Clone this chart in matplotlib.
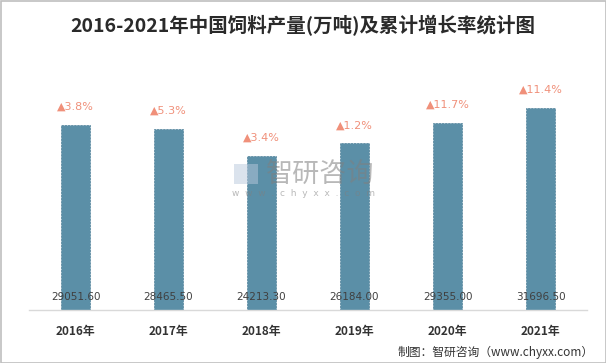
import matplotlib
matplotlib.use("Agg")
import matplotlib.pyplot as plt
from matplotlib.patches import Rectangle

years = ["2016年", "2017年", "2018年", "2019年", "2020年", "2021年"]
output = [29051.60, 28465.50, 24213.30, 26184.00, 29355.00, 31696.50]
growth = [3.8, 5.3, 3.4, 1.2, 11.7, 11.4]

plt.rcParams['font.family'] = ['Noto Sans CJK SC', 'DejaVu Sans']

W, H = 606, 363
fig = plt.figure(figsize=(W / 100, H / 100), dpi=100)
ax = fig.add_axes([29 / W, (H - 310) / H, (587 - 29) / W, 250 / H])

x = list(range(len(years)))
ax.bar(x, output, width=0.31, color='#5B8FA7', edgecolor='#4F8199',
       linewidth=0.5, linestyle=(0, (3, 1.5)), zorder=2)
ax.set_xlim(-0.5, len(years) - 0.5)
ax.set_ylim(0, 39250)
for s in ['top', 'right', 'left']:
    ax.spines[s].set_visible(False)
ax.spines['bottom'].set_color('#D9D9D9')
ax.spines['bottom'].set_linewidth(1.0)
ax.set_xticks([])
ax.set_yticks([])
ax.patch.set_alpha(0)

for i, (v, g) in enumerate(zip(output, growth)):
    ax.annotate(f"▲{g}%", xy=(i, v), xytext=(0, 13), textcoords='offset points',
                ha='center', va='center', fontsize=8, color='#F0907A',
                family=['DejaVu Sans'], zorder=4)
    ax.annotate(f"{v:.2f}", xy=(i, 0), xytext=(0, 9.4), textcoords='offset points',
                ha='center', va='center', fontsize=7.5, color='#404040',
                family=['DejaVu Sans'], zorder=4)
    ax.annotate(years[i], xy=(i, 0), xytext=(0, -15.8), textcoords='offset points',
                ha='center', va='center', fontsize=8.5, color='#333333',
                fontweight='bold', annotation_clip=False)

# watermark
fig.text(320 / W, 1 - 174 / H, "智研咨询", ha='center', va='center', fontsize=19.5,
         color='#7F7F7F', alpha=0.55, zorder=5)
fig.text(303 / W, 1 - 193 / H, "w  w  w  .  c  h  y  x  x  .  c  o  m", ha='center', va='center',
         fontsize=6.5, color='#7F7F7F', alpha=0.55, family=['DejaVu Sans'], zorder=5)
fig.patches.append(Rectangle((234 / W, 1 - 184 / H), 24 / W, 20 / H, transform=fig.transFigure,
                             facecolor='#B8C8DC', alpha=0.5, edgecolor='none', zorder=5))

fig.text(303 / W, 1 - 26 / H, "2016-2021年中国饲料产量(万吨)及累计增长率统计图",
         ha='center', va='center', fontsize=14, color='#2A2A2A', fontweight='bold')
fig.text(594 / W, 1 - 352 / H, "制图：智研咨询（www.chyxx.com）", ha='right', va='center',
         fontsize=8.5, color='#333333')

fig.patches.append(Rectangle((0.5 / W, 0.5 / H), (W - 1) / W, (H - 1) / H,
                             transform=fig.transFigure, fill=False,
                             edgecolor='#BFBFBF', linewidth=1.2))

fig.savefig("out.png", dpi=100)
